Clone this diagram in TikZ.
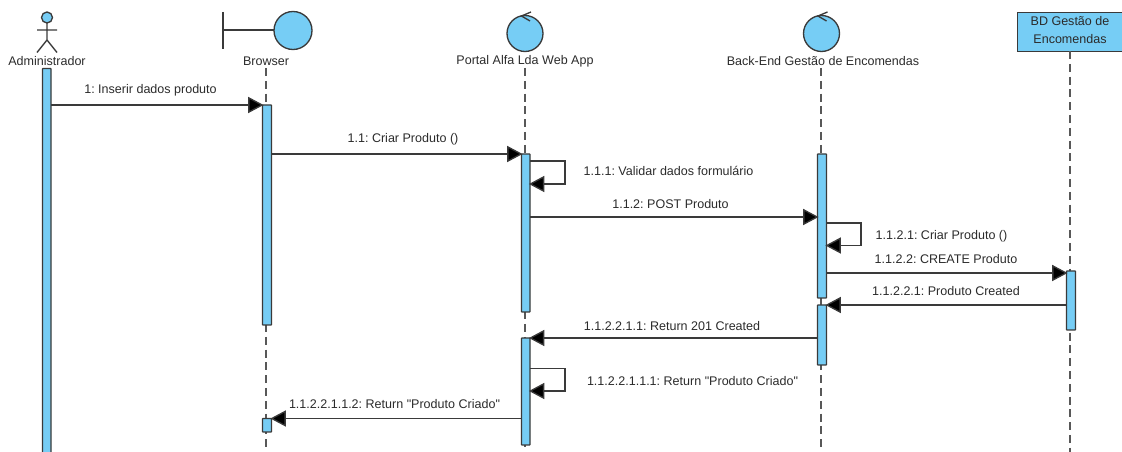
\documentclass[tikz,border=0pt]{standalone}
\usepackage{fontspec}
\setmainfont[Ligatures=TeXOff]{Liberation Sans}
\usetikzlibrary{arrows.meta}
\definecolor{umlblue}{HTML}{76CDF5}
\definecolor{umlline}{HTML}{3A3A3A}
\definecolor{umltext}{HTML}{2B2B2B}
\tikzset{
  x=0.75pt,y=-0.75pt,
  glyph/.style={draw=umlline,line width=1pt},
  glyphfill/.style={glyph,fill=umlblue},
  lifeline/.style={draw=umlline!85,line width=1pt,dash pattern=on 6pt off 3.6pt},
  activation/.style={draw=umlline,line width=0.9pt,fill=umlblue,rounded corners=0.4pt},
  msg/.style={draw=umlline,line width=1pt,shorten >=-0.8pt,-{Triangle[length=11.5pt,width=12pt,fill=black]}},
  lbl/.style={text=umltext,font=\fontsize{9.4}{11}\selectfont\frenchspacing,inner sep=0pt,anchor=center},
}
\newcommand{\barbox}[5]{\path[activation] (#2,#3) rectangle (#4,#5) node[pos=.5,inner sep=0pt,minimum size=0pt] (#1) {};}
\begin{document}
\begin{tikzpicture}
\useasboundingbox (0,0) rectangle (1122,452);
\begin{scope}
\clip (0,0) rectangle (1122,452);
% head symbols
\node[lbl] (adminlabel) at (47,61.5) {Administrador};
\node[lbl] (browserlabel) at (266,61.5) {Browser};
\node[lbl] (portallabel) at (525,61.5) {Portal Alfa Lda Web App};
\node[lbl] (backendlabel) at (823,61.5) {Back-End Gestão de Encomendas};
% actor
\draw[glyphfill] (47,17.5) circle (5.5);
\draw[glyph] (47,23) -- (47,40) (37,30) -- (57,30) (37,52.5) -- (47,40) -- (57,52.5);
% boundary
\draw[glyph] (223,12) -- (223,49) (223,30) -- (274,30);
\draw[glyphfill] (293,30.5) circle (19);
% controls
\foreach \c in {525,821.5}{
  \draw[glyphfill] (\c,33.5) circle (18);
  \draw[glyph] (\c+6,12) -- (\c-3.5,16) -- (\c+5,21);
}
% database box
\node[draw=umlline,line width=1pt,fill=umlblue,minimum width=112pt,minimum height=29pt,inner sep=0pt,anchor=north west] (db) at (1016.5,12) {};
\node[lbl,align=center,font=\fontsize{9.4}{13}\selectfont] (dblabel) at (1070,30) {BD Gestão de\\Encomendas};
% lifelines
\coordinate (bottom) at (0,452);
\path[lifeline] (browserlabel.south |- 0,68) -- (browserlabel.south |- bottom);
\path[lifeline] (portallabel.south |- 0,68) -- (portallabel.south |- bottom);
\path[lifeline] (821,68) -- (821,452);
\path[lifeline] (1070,51) -- (1070,452);
% activation bars
\barbox{a1}{42.5}{68.5}{51}{460}
\barbox{b1}{262.5}{105}{271.5}{325}
\barbox{b2}{262.5}{418.5}{271.5}{432}
\barbox{p1}{521.5}{154}{530}{312}
\barbox{p2}{521.5}{338}{530}{445}
\barbox{k1}{817.5}{154}{826.5}{298}
\barbox{k2}{817.5}{305}{826.5}{365}
\barbox{d1}{1066.5}{271}{1075.5}{330}
% message end points
\coordinate (m1s) at (51,105);   \coordinate (m1e) at (262.5,105);
\coordinate (m2s) at (271.5,154);\coordinate (m2e) at (521.5,154);
\coordinate (m3s) at (530,217);  \coordinate (m3e) at (817.5,217);
\coordinate (m4s) at (826.5,273);\coordinate (m4e) at (1066.5,273);
\coordinate (m5s) at (1066.5,305);\coordinate (m5e) at (826.5,305);
\coordinate (m6s) at (817.5,338);\coordinate (m6e) at (530,338);
\coordinate (m7s) at (521.5,418.5);\coordinate (m7e) at (271.5,418.5);
\coordinate (s1s) at (530,161);  \coordinate (s1e) at (530,184);
\coordinate (s2s) at (826.5,223);\coordinate (s2e) at (826.5,245.5);
\coordinate (s3s) at (530,368.5);\coordinate (s3e) at (530,391);
% messages
\draw[msg] (m1s) -- (m1e);
\draw[msg] (m2s) -- (m2e);
\draw[msg] (m3s) -- (m3e);
\draw[msg] (m4s) -- (m4e);
\draw[msg] (m5s) -- (m5e);
\draw[msg] (m6s) -- (m6e);
\draw[msg] (m7s) -- (m7e);
\draw[msg] (s1s) -| (565,184) -- (s1e);
\draw[msg] (s2s) -| (861,245.5) -- (s2e);
\draw[msg] (s3s) -| (565,391) -- (s3e);
% message labels
\node[lbl] (l1) at (150.5,90.5) {1: Inserir dados produto};
\node[lbl] (l2) at (403,139.5) {1.1: Criar Produto ()};
\node[lbl] (l3) at (668.5,171) {1.1.1: Validar dados formulário};
\node[lbl] (l4) at (670.5,204) {1.1.2: POST Produto};
\node[lbl] (l5) at (941.5,236) {1.1.2.1: Criar Produto ()};
\node[lbl] (l6) at (946,259) {1.1.2.2: CREATE Produto};
\node[lbl] (l7) at (946,291) {1.1.2.2.1: Produto Created};
\node[lbl] (l8) at (672,326.5) {1.1.2.2.1.1: Return 201 Created};
\node[lbl] (l9) at (692.5,381.5) {1.1.2.2.1.1.1: Return "Produto Criado"};
\node[lbl] (l10) at (394.5,404) {1.1.2.2.1.1.2: Return "Produto Criado"};
\end{scope}
\end{tikzpicture}
\end{document}
